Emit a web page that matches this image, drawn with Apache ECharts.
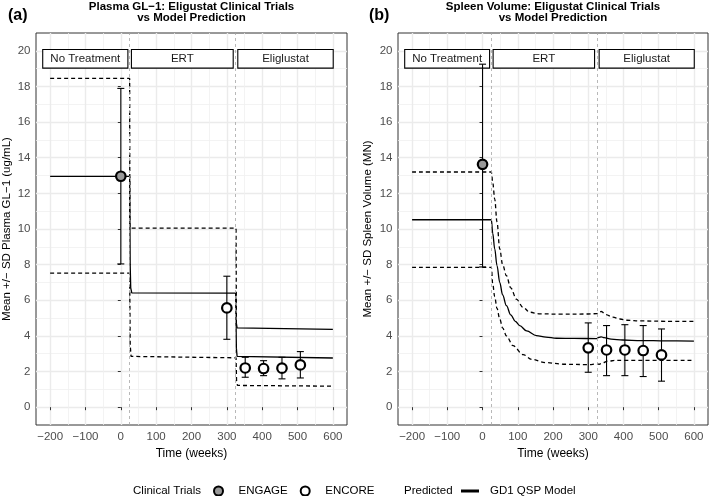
<!DOCTYPE html>
<html lang="en">
<head>
<meta charset="UTF-8">
<title>Eliglustat Clinical Trials vs Model Prediction</title>
<script src="https://cdn.jsdelivr.net/npm/echarts@6/dist/echarts.min.js"></script>
<style>
    html, body { margin: 0; padding: 0; background: #fff; }
    #chart { width: 709px; height: 496px; }
</style>
</head>
<body>
<div id="chart"></div>
<script>
    // treatment phases (weeks)
    let phaseLines = [25, 325];
    let phaseNames = ['No Treatment', 'ERT', 'Eliglustat'];
    let phaseStart = [-221, 30, 331];
    let phaseEnd = [20, 318, 601];

    // axis ticks
    let xTicks = [-200, -100, 0, 100, 200, 300, 400, 500, 600];
    let xMinor = [-150, -50, 50, 150, 250, 350, 450, 550];
    let yTicks = [0, 2, 4, 6, 8, 10, 12, 14, 16, 18, 20];
    let yMinor = [1, 3, 5, 7, 9, 11, 13, 15, 17, 19];

    // (a) plasma GL-1 observations
    let engageA = [0, 12.96, 8.04, 17.89];
    let encoreT = [300, 352, 404, 456, 508];
    let encoreMeanA = [5.57, 2.20, 2.17, 2.19, 2.37];
    let encoreLowA = [3.81, 1.68, 1.77, 1.59, 1.64];
    let encoreHighA = [7.35, 2.80, 2.61, 2.80, 3.12];

    // (a) model prediction
    let predMeanA = [[-200, 12.95], [25, 12.95], [26.5, 8.0], [28, 6.7], [31, 6.42], [325, 6.40],
        [327, 3.3], [329, 2.85], [333, 2.76], [600, 2.76]];
    let predUpperA = [[-200, 18.45], [25, 18.45], [25.5, 10.05], [326, 10.05], [327, 4.7]];
    let predUpperA2 = [[327, 4.7], [329, 4.45], [333, 4.37], [600, 4.37]];
    let predLowerA = [[-200, 7.52], [25, 7.52], [26.5, 3.5], [29, 2.85], [33, 2.77], [326, 2.77],
        [327.5, 1.5], [330, 1.22], [334, 1.18], [600, 1.18]];

    // (b) spleen volume observations
    let engageB = [0, 13.63, 7.87, 19.25];
    let encoreMeanB = [3.33, 3.21, 3.21, 3.18, 2.93];
    let encoreLowB = [1.96, 1.77, 1.77, 1.72, 1.46];
    let encoreHighB = [4.73, 4.58, 4.63, 4.58, 4.39];

    // (b) model prediction
    let predMeanB = [[-200, 10.52], [25, 10.52], [29, 9.75], [34.6, 8.88], [41, 7.95], [48.8, 7.01],
        [57, 6.3], [67.8, 5.70], [80, 5.18], [93, 4.82], [105.5, 4.58], [125, 4.28], [152.9, 4.02],
        [180, 3.93], [209.6, 3.87], [260, 3.86], [324, 3.85], [330, 3.92], [337, 3.95], [345, 3.9],
        [365, 3.82], [398, 3.77], [450, 3.74], [520, 3.72], [600, 3.71]];
    let predUpperB = [[-200, 13.2], [25, 13.2], [29, 12.6], [34.6, 11.68], [41, 10.4], [48.8, 8.88],
        [57, 8.0], [67.8, 7.38], [80, 6.7], [96, 6.07], [115, 5.6], [134, 5.33], [160, 5.24],
        [220, 5.22], [300, 5.23], [324, 5.25], [330, 5.32], [337, 5.37], [350, 5.2], [370, 5.05],
        [390, 4.95], [410, 4.88], [450, 4.84], [520, 4.82], [600, 4.82]];
    let predLowerB = [[-200, 7.85], [25, 7.85], [29, 6.9], [34.6, 6.2], [41, 5.55], [48.8, 4.95],
        [57, 4.45], [67.8, 4.0], [86.5, 3.45], [115, 2.95], [140, 2.68], [180, 2.5], [230, 2.41],
        [300, 2.39], [325, 2.42], [331, 2.41], [340, 2.48], [355, 2.58], [380, 2.63], [600, 2.63]];

    const FONT = '"Liberation Sans", Arial, sans-serif';
    const BOX_TOP = 20.07;
    const BOX_BOTTOM = 19.03;

    let chart = echarts.init(document.getElementById('chart'));

    function pairs(xs, ys) {
        return xs.map(function (x, i) { return [x, ys[i]]; });
    }

    function bars(xs, lo, hi) {
        return xs.map(function (x, i) { return [x, lo[i], hi[i]]; });
    }

    function xAxisOf(grid, name) {
        return {
            type: 'value', gridIndex: grid, min: -240, max: 640,
            name: name, nameLocation: 'middle', nameGap: 21,
            nameTextStyle: {fontFamily: FONT, fontSize: 12, color: '#000'},
            axisLine: {show: false},
            axisTick: {show: true, length: 3, customValues: xTicks, lineStyle: {color: '#333', width: 1}},
            axisLabel: {customValues: xTicks, margin: 6, fontFamily: FONT, fontSize: 11.5, color: '#4D4D4D',
                formatter: function (v) { return String(v).replace('-', '\u2212'); }},
            splitLine: {show: true, lineStyle: {color: '#EBEBEB', width: 1.4}}
        };
    }

    function yAxisOf(grid, name, gap) {
        return {
            type: 'value', gridIndex: grid, min: -1, max: 21,
            name: name, nameLocation: 'middle', nameGap: gap, nameRotate: 90,
            nameTextStyle: {fontFamily: FONT, fontSize: 11.5, color: '#000'},
            axisLine: {show: false},
            axisTick: {show: true, length: 3, customValues: yTicks, lineStyle: {color: '#333', width: 1}},
            axisLabel: {customValues: yTicks, margin: 5.5, fontFamily: FONT, fontSize: 11.5, color: '#4D4D4D'},
            splitLine: {show: true, lineStyle: {color: '#EBEBEB', width: 1.4}}
        };
    }

    function minorAxis(kind, grid) {
        let vals = kind === 'x' ? xMinor : yMinor;
        return {
            type: 'value', gridIndex: grid,
            min: kind === 'x' ? -240 : -1, max: kind === 'x' ? 640 : 21,
            axisLine: {show: false},
            axisTick: {show: false, customValues: vals},
            axisLabel: {show: false, customValues: vals},
            splitLine: {show: true, lineStyle: {color: '#F0F0F0', width: 0.8}}
        };
    }

    function lineSeries(name, idx, data, dashed, smooth) {
        return {
            type: 'line', name: name, xAxisIndex: idx, yAxisIndex: idx, z: 2,
            data: data, showSymbol: false, symbol: 'none', silent: true,
            smooth: smooth ? 0.35 : false, smoothMonotone: 'x',
            itemStyle: {color: '#000'},
            lineStyle: {color: '#000', width: 1.3, type: dashed ? [4, 3] : 'solid'}
        };
    }

    function phaseBoxes(idx) {
        return {
            type: 'custom', name: 'phases' + idx, xAxisIndex: idx, yAxisIndex: idx, z: 3, silent: true,
            data: bars(phaseStart, phaseEnd, phaseEnd),
            renderItem: function (params, api) {
                let p0 = api.coord([api.value(0), BOX_TOP]);
                let p1 = api.coord([api.value(1), BOX_BOTTOM]);
                return {
                    type: 'rect',
                    shape: {x: p0[0], y: p0[1], width: p1[0] - p0[0], height: p1[1] - p0[1]},
                    style: {fill: '#fff', stroke: '#000', lineWidth: 1.1},
                    textContent: {
                        type: 'text',
                        style: {text: phaseNames[params.dataIndex], fontFamily: FONT, fontSize: 11.5, fill: '#1A1A1A'}
                    },
                    textConfig: {position: 'inside'}
                };
            }
        };
    }

    function errorBars(name, idx, data) {
        return {
            type: 'custom', name: name, xAxisIndex: idx, yAxisIndex: idx, z: 4, silent: true,
            data: data,
            renderItem: function (params, api) {
                let x = api.value(0);
                let lo = api.coord([x, api.value(1)]);
                let hi = api.coord([x, api.value(2)]);
                let w = 3.5;
                let st = {stroke: '#000', lineWidth: 1.1};
                return {
                    type: 'group',
                    children: [
                        {type: 'line', shape: {x1: lo[0], y1: lo[1], x2: hi[0], y2: hi[1]}, style: st},
                        {type: 'line', shape: {x1: lo[0] - w, y1: lo[1], x2: lo[0] + w, y2: lo[1]}, style: st},
                        {type: 'line', shape: {x1: hi[0] - w, y1: hi[1], x2: hi[0] + w, y2: hi[1]}, style: st}
                    ]
                };
            }
        };
    }

    function points(name, idx, data, fill) {
        return {
            type: 'scatter', name: name, xAxisIndex: idx, yAxisIndex: idx, z: 5,
            data: data, symbol: 'circle', symbolSize: 9.5,
            itemStyle: {color: fill, borderColor: '#000', borderWidth: 2.2, opacity: 1}
        };
    }

    function vlines() {
        return {
            silent: true, symbol: 'none', label: {show: false},
            lineStyle: {color: '#A6A6A6', width: 0.8, type: [3, 3]},
            data: phaseLines.map(function (v) { return {xAxis: v}; })
        };
    }

    let meanA = lineSeries('GD1 QSP Model', 0, predMeanA, false, false);
    meanA.markLine = vlines();
    let meanB = lineSeries('GD1 QSP Model', 1, predMeanB, false, true);
    meanB.markLine = vlines();

    let option = {
        backgroundColor: '#fff',
        animation: false,
        grid: [
            {left: 36, top: 33, width: 311, height: 392, show: true, backgroundColor: '#fff',
                borderColor: '#333', borderWidth: 1, outerBoundsMode: 'none'},
            {left: 398, top: 33, width: 310, height: 392, show: true, backgroundColor: '#fff',
                borderColor: '#333', borderWidth: 1, outerBoundsMode: 'none'}
        ],
        xAxis: [xAxisOf(0, 'Time (weeks)'), xAxisOf(1, 'Time (weeks)'), minorAxis('x', 0), minorAxis('x', 1)],
        yAxis: [yAxisOf(0, 'Mean +/\u2212 SD Plasma GL\u22121 (ug/mL)', 23),
            yAxisOf(1, 'Mean +/\u2212 SD Spleen Volume (MN)', 24),
            minorAxis('y', 0), minorAxis('y', 1)],
        legend: [
            {
                left: 208, top: 480, itemWidth: 30, itemHeight: 9, itemGap: 12, icon: 'circle',
                selectedMode: false,
                textStyle: {fontFamily: FONT, fontSize: 11.5, color: '#000'},
                data: [
                    {name: 'ENGAGE', itemStyle: {color: '#999999', borderColor: '#000', borderWidth: 2}},
                    {name: 'ENCORE', itemStyle: {color: '#fff', borderColor: '#000', borderWidth: 2}}
                ]
            },
            {
                left: 456, top: 480, itemWidth: 30, itemHeight: 3, selectedMode: false,
                icon: 'path://M0,0H18V3H0Z',
                textStyle: {fontFamily: FONT, fontSize: 11.5, color: '#000'},
                data: [{name: 'GD1 QSP Model', itemStyle: {color: '#000'}}]
            }
        ],
        graphic: [
            {type: 'text', left: 8, top: 8, style: {text: '(a)', font: 'bold 16px ' + FONT, fill: '#000'}},
            {type: 'text', left: 369, top: 8, style: {text: '(b)', font: 'bold 16px ' + FONT, fill: '#000'}},
            {type: 'text', x: 191.5, y: 6.5, style: {text: 'Plasma GL\u22121: Eligustat Clinical Trials',
                    font: 'bold 11.5px ' + FONT, fill: '#000', align: 'center', verticalAlign: 'middle'}},
            {type: 'text', x: 191.5, y: 17.5, style: {text: 'vs Model Prediction',
                    font: 'bold 11.5px ' + FONT, fill: '#000', align: 'center', verticalAlign: 'middle'}},
            {type: 'text', x: 553, y: 6.5, style: {text: 'Spleen Volume: Eligustat Clinical Trials',
                    font: 'bold 11.5px ' + FONT, fill: '#000', align: 'center', verticalAlign: 'middle'}},
            {type: 'text', x: 553, y: 17.5, style: {text: 'vs Model Prediction',
                    font: 'bold 11.5px ' + FONT, fill: '#000', align: 'center', verticalAlign: 'middle'}},
            {type: 'text', x: 201, y: 490.5, style: {text: 'Clinical Trials',
                    font: '11.5px ' + FONT, fill: '#000', align: 'right', verticalAlign: 'middle'}},
            {type: 'text', x: 404, y: 490.5, style: {text: 'Predicted',
                    font: '11.5px ' + FONT, fill: '#000', align: 'left', verticalAlign: 'middle'}}
        ],
        series: [
            meanA,
            lineSeries('upper', 0, predUpperA, true, false),
            lineSeries('upper2', 0, predUpperA2, false, false),
            lineSeries('lower', 0, predLowerA, true, false),
            phaseBoxes(0),
            errorBars('errA1', 0, [engageA.slice(0, 1).concat(engageA.slice(2))]),
            errorBars('errA2', 0, bars(encoreT, encoreLowA, encoreHighA)),
            points('ENGAGE', 0, [engageA.slice(0, 2)], '#999999'),
            points('ENCORE', 0, pairs(encoreT, encoreMeanA), '#fff'),

            meanB,
            lineSeries('upperB', 1, predUpperB, true, true),
            lineSeries('lowerB', 1, predLowerB, true, true),
            phaseBoxes(1),
            errorBars('errB1', 1, [engageB.slice(0, 1).concat(engageB.slice(2))]),
            errorBars('errB2', 1, bars(encoreT, encoreLowB, encoreHighB)),
            points('ENGAGE', 1, [engageB.slice(0, 2)], '#999999'),
            points('ENCORE', 1, pairs(encoreT, encoreMeanB), '#fff')
        ]
    };
    chart.setOption(option);
</script>
</body>
</html>
